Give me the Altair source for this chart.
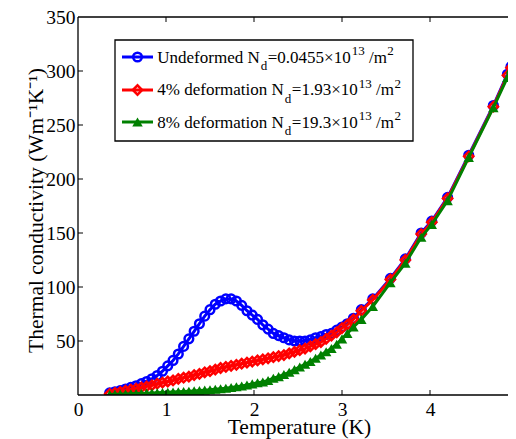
import altair as alt
import pandas as pd

# ---------------- data ----------------
T_low = [0.36, 0.42, 0.48, 0.54, 0.60, 0.66, 0.72, 0.78, 0.84, 0.90,
         0.96, 1.02, 1.08, 1.14, 1.20, 1.26, 1.32, 1.38, 1.44, 1.50,
         1.56, 1.62, 1.68, 1.74, 1.80, 1.86, 1.92, 1.98, 2.04, 2.10,
         2.16, 2.22, 2.28, 2.34, 2.40, 2.46, 2.52, 2.58, 2.64, 2.70,
         2.76, 2.82, 2.88, 2.94]
T_high = [3.00, 3.06, 3.13, 3.22, 3.35, 3.55, 3.72, 3.90, 4.02, 4.20,
          4.44, 4.72, 4.88, 4.92, 4.98]
temperature = T_low + T_high

k_undeformed = [2, 3, 4, 5.5, 7, 8.5, 10.5, 12.5, 15, 18,
                22, 27, 32, 38, 45, 52, 59, 66, 73, 79,
                84, 87, 89, 89, 87, 83, 78, 74, 70, 65,
                61, 57, 55, 53, 51, 50, 50, 50, 51, 53,
                54, 56, 57, 60,
                63, 66, 71, 79, 89, 108, 126, 150, 161, 183,
                222, 268, 297, 304, 310]
k_4pct = [1, 2, 3, 4, 5, 6, 7, 8, 9, 10.5,
          11.5, 12.5, 13.5, 15, 16, 17, 18.5, 19.5, 21, 22,
          23.5, 25, 26, 27, 28, 29, 30, 31, 32, 33,
          34, 35, 36, 37, 38.5, 40, 41.5, 43, 45, 47,
          49, 52, 55, 58,
          62, 65, 70, 78, 88, 107, 125, 149, 160, 182,
          221, 267, 296, 303, 309]
k_8pct = [0.5, 0.6, 0.8, 1, 1.1, 1.3, 1.5, 1.7, 1.9, 2.1,
          2.3, 2.5, 2.7, 3, 3.2, 3.5, 3.8, 4.1, 4.5, 4.9,
          5.3, 5.8, 6.3, 6.9, 7.6, 8.4, 9.3, 10.3, 11.4, 12,
          13.5, 15.5, 17, 19, 21, 23.5, 26, 28.5, 31, 34,
          37, 40, 43, 47,
          52, 57, 63, 70, 82, 104, 122, 146, 158, 180,
          220, 266, 294, 302, 308]

series_names = ["undeformed", "4pct", "8pct"]
series_values = [k_undeformed, k_4pct, k_8pct]
series_colors = ["#0000ff", "#ff0000", "#008000"]
series_shapes = ["circle", "diamond", "triangle-up"]
series_filled = [False, False, True]
series_sizes = [75, 85, 110]

legend_prefix = ["Undeformed N", "4% deformation N", "8% deformation N"]
legend_value = ["=0.0455\u00d710", "=1.93\u00d710", "=19.3\u00d710"]
legend_exp = "13"
legend_unit = "/m"
legend_unit_exp = "2"

x_ticks = [0, 1, 2, 3, 4, 5]
y_ticks = [50, 100, 150, 200, 250, 300, 350]

# ---------------- layout ----------------
# the page is 500px wide inside its margins; the reference's axes run past
# the right edge of the picture (x = 5 sits just off-screen), so the plot is
# cut at the window edge: 88 px per kelvin.
W, H = 430, 378
X_MAX = W / 88.0
FONT = "Liberation Serif"
LABEL_SIZE = 19.5
TITLE_SIZE = 21.5
LEG_SIZE = 17
SUB_SIZE = 13

rows = []
for name, vals in zip(series_names, series_values):
    for t, k in zip(temperature, vals):
        rows.append({"T": t, "k": k, "series": name})
df = pd.DataFrame(rows)

xscale = alt.Scale(domain=[0, X_MAX], nice=False, zero=False)
yscale = alt.Scale(domain=[0, 350], nice=False, zero=False)
X = alt.X("T:Q", scale=xscale,
          axis=alt.Axis(values=x_ticks, title="Temperature (K)", grid=False,
                        domain=False, ticks=False, tickSize=0, labelFlush=False,
                        labelBaseline="alphabetic", labelPadding=20,
                        labelFont=FONT, labelFontSize=LABEL_SIZE, labelColor="black",
                        titleFont=FONT, titleFontSize=TITLE_SIZE, titleFontWeight="normal",
                        titleColor="black", titleX=221, titleY=38.5,
                        titleBaseline="alphabetic", titleAlign="center"))
Y = alt.Y("k:Q", scale=yscale,
          axis=alt.Axis(values=y_ticks,
                        title="Thermal conductivity (Wm\u207b\u00b9K\u207b\u00b9)",
                        grid=False, domain=False, ticks=False, tickSize=0,
                        labelFlush=False, labelPadding=3,
                        labelFont=FONT, labelFontSize=LABEL_SIZE, labelColor="black",
                        titleFont=FONT, titleFontSize=TITLE_SIZE, titleFontWeight="normal",
                        titleColor="black", titleX=-36, titleY=193, titleAngle=270,
                        titleBaseline="alphabetic", titleAlign="center"))

layers = []
for name, color, shape, filled, sz in zip(series_names, series_colors, series_shapes,
                                          series_filled, series_sizes):
    base = alt.Chart(df[df.series == name])
    layers.append(base.mark_line(color=color, strokeWidth=3, clip=True).encode(x=X, y=Y))
    layers.append(base.mark_point(shape=shape, filled=filled, color=color, size=sz,
                                  strokeWidth=2.5, opacity=1, clip=True).encode(x=X, y=Y))

# frame (left, bottom, top; the right edge lies beyond the picture)
dummy = pd.DataFrame({"a": [0]})
frame = dict(color="black", strokeWidth=1.3)
layers.append(alt.Chart(dummy).mark_rule(**frame).encode(
    x=alt.value(0), y=alt.value(0), y2=alt.value(H)))
layers.append(alt.Chart(dummy).mark_rule(**frame).encode(
    x=alt.value(0), x2=alt.value(W + 10), y=alt.value(H)))
layers.append(alt.Chart(dummy).mark_rule(**frame).encode(
    x=alt.value(0), x2=alt.value(W + 10), y=alt.value(0)))

# inward ticks
xt = pd.DataFrame({"T": x_ticks[1:-1]})
yt = pd.DataFrame({"k": y_ticks[:-1]})
layers.append(alt.Chart(xt).mark_rule(color="black", strokeWidth=1).encode(
    x=X, y=alt.value(H), y2=alt.value(H - 5)))
layers.append(alt.Chart(xt).mark_rule(color="black", strokeWidth=1).encode(
    x=X, y=alt.value(0), y2=alt.value(5)))
layers.append(alt.Chart(yt).mark_rule(color="black", strokeWidth=1).encode(
    y=Y, x=alt.value(0), x2=alt.value(5)))

# ---------------- legend ----------------
METRIC = {'U': .722, 'n': .5, 'd': .5, 'e': .444, 'f': .333, 'o': .5, 'r': .333,
          'm': .778, 'N': .722, ' ': .25, '4': .5, '%': .833, 'a': .444, 't': .278,
          'i': .278, '8': .5, '=': .564, '0': .5, '.': .25, '5': .5, '\u00d7': .564,
          '1': .5, '9': .5, '3': .5, '/': .278, '2': .5}


def tw(s, size):
    return sum(METRIC.get(c, .5) for c in s) * size


def txt(s, x, y, size):
    return alt.Chart(dummy).mark_text(text=s, font=FONT, fontSize=size, color="black",
                                      align="left", baseline="alphabetic").encode(
        x=alt.value(x), y=alt.value(y))


layers.append(alt.Chart(dummy).mark_rect(fill="white", stroke="black", strokeWidth=1.3).encode(
    x=alt.value(37), x2=alt.value(335), y=alt.value(23), y2=alt.value(124)))

row_base = [45.7, 78.3, 110.5]
row_mid = [40, 73, 105]
for i in range(3):
    yb = row_base[i]
    ym = row_mid[i]
    layers.append(alt.Chart(dummy).mark_rule(color=series_colors[i], strokeWidth=3).encode(
        x=alt.value(44), x2=alt.value(75), y=alt.value(ym)))
    layers.append(alt.Chart(dummy).mark_point(shape=series_shapes[i], filled=series_filled[i],
                                              color=series_colors[i], size=series_sizes[i],
                                              strokeWidth=2.5, opacity=1).encode(
        x=alt.value(59.5), y=alt.value(ym)))
    x0 = 79.3
    layers.append(txt(legend_prefix[i], x0, yb, LEG_SIZE))
    x1 = x0 + tw(legend_prefix[i], LEG_SIZE) + 1
    layers.append(txt("d", x1, yb + 7.5, SUB_SIZE))
    x2 = x1 + tw("d", SUB_SIZE) + 0.5
    layers.append(txt(legend_value[i], x2, yb, LEG_SIZE))
    x3 = x2 + tw(legend_value[i], LEG_SIZE) + 1
    layers.append(txt(legend_exp, x3, yb - 7.5, SUB_SIZE))
    x4 = x3 + tw(legend_exp, SUB_SIZE) + tw(" ", LEG_SIZE)
    layers.append(txt(legend_unit, x4, yb, LEG_SIZE))
    x5 = x4 + tw(legend_unit, LEG_SIZE) + 0.5
    layers.append(txt(legend_unit_exp, x5, yb - 7.5, SUB_SIZE))

chart = alt.layer(*layers).properties(
    width=W, height=H,
    padding={"left": 70, "top": 9, "right": 0, "bottom": 44},
    autosize=alt.AutoSizeParams(type="none"),
    background="white",
).configure_view(strokeWidth=0)

chart.save("out.html", embed_options={"renderer": "svg", "actions": False})
